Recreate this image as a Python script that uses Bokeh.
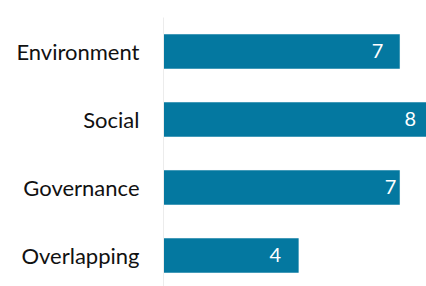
from bokeh.plotting import figure
from bokeh.models import ColumnDataSource, Range1d, FixedTicker
from bokeh.core.properties import value
from bokeh.embed import file_html
from bokeh.resources import INLINE

categories = ["Environment", "Social", "Governance", "Overlapping"]
counts = [7, 8, 7, 4]
label_offsets = [-22, -23, -9, -23]

positions = list(range(len(categories)))
src = ColumnDataSource(dict(
    y=positions, x=counts, lbl=[str(c) for c in counts], off=label_offsets,
))

p = figure(width=426, height=286, output_backend="svg", toolbar_location=None,
           x_range=Range1d(0, 7.8), y_range=Range1d(3.456, -0.5),
           min_border_left=163, min_border_top=17, min_border_right=0,
           min_border_bottom=0)
p.outline_line_color = None
p.grid.grid_line_color = None
p.xaxis.visible = False
p.background_fill_color = "white"

p.hbar(y="y", right="x", left=0, height=0.5, source=src,
       fill_color="#0478A0", line_color="#0478A0", line_width=0.5)
p.text(x="x", y="y", text="lbl", x_offset="off", source=src,
       text_color="white", text_font=value("Lato"), text_font_size="20px",
       text_align="center", text_baseline="middle")

p.yaxis.ticker = FixedTicker(ticks=positions)
p.yaxis.major_label_overrides = {i: c for i, c in zip(positions, categories)}
p.yaxis.axis_line_color = "#ececec"
p.yaxis.major_tick_line_color = None
p.yaxis.minor_tick_line_color = None
p.yaxis.major_label_standoff = 18
p.yaxis.major_label_text_font = "Lato"
p.yaxis.major_label_text_font_size = "22px"
p.yaxis.major_label_text_color = "#111111"

open("out.html", "w").write(file_html(p, INLINE))
